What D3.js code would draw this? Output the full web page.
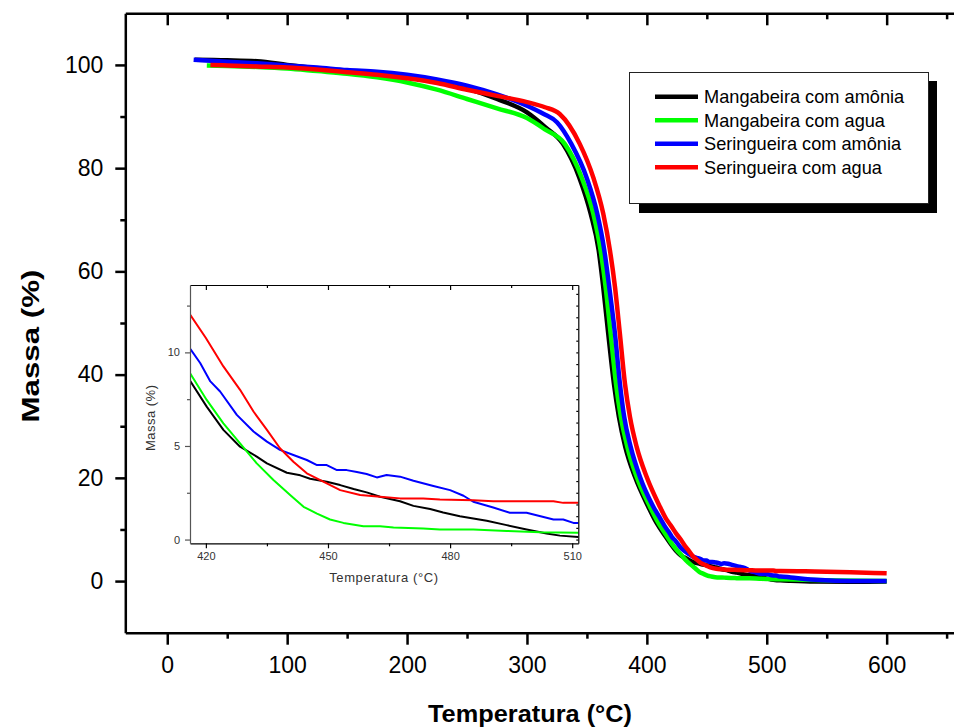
<!DOCTYPE html>
<html lang="pt">
<head>
<meta charset="UTF-8" />
<title>TGA - Massa x Temperatura</title>
<script src="https://d3js.org/d3.v7.min.js"></script>
<style>
  body { margin: 0; background: #fff; }
  svg { font-family: "Liberation Sans", Arial, sans-serif; }
  .main-axis text { font-size: 23px; fill: #000; }
  .main-axis line, .main-axis path { stroke: #000; stroke-width: 2.5px; }
  .inset-axis text { font-size: 11px; fill: #333; }
  .inset-axis line, .inset-axis path { stroke: #000; stroke-width: 1.2px; }
  .inset-left line, .inset-left path { stroke: #555; }
</style>
</head>
<body>
<script>
// series: [temperatura (°C), massa (%)]
const mangAmonia = [[23,101.0],[50,100.9],[75,100.7],[100,100.0],[125,99.3],[150,98.7],[175,98.2],[200,97.6],[225,96.7],[250,95.4],[275,93.4],[300,90.8],[315,88.0],[330,84.7],[343.6,78.2],[353.1,71.2],[359.8,64.1],[363.6,57.0],[367.8,47.9],[372.5,38.3],[376.7,31.8],[382,26.0],[390.1,20.2],[401.2,14.4],[408,11.3],
  [416.2,8.45],[420.2,7.1],[424.3,5.86],[428.4,4.96],[432.5,4.43],[435,4.07],[439.9,3.57],[443.2,3.43],[445.6,3.25],[449.7,3.09],[453,2.91],[456.3,2.7],[459.5,2.52],[462.8,2.29],[467.7,2.05],[471,1.8],[475.1,1.63],[478.3,1.45],[482.4,1.25],[489,1.0],[493.9,0.77],[498.8,0.54],[503.7,0.32],[507,0.21],[511.5,0.14],
  [520,0.05],[540,-0.1],[570,-0.15],[600,-0.1]];
const mangAgua = [[33,99.9],[50,99.8],[75,99.6],[100,99.3],[125,98.8],[150,98.3],[175,97.6],[200,96.6],[225,95.2],[250,93.4],[275,91.6],[300,89.7],[315,87.5],[331.5,84.7],[345.6,78.2],[355.3,71.2],[361.4,64.1],[365.6,57.0],[369.8,47.9],[374.2,38.3],[378.3,31.8],[383.7,26.0],[391.5,20.2],[402.6,14.4],[409,11.5],
  [416.2,8.86],[420.2,7.46],[424.3,6.21],[428.4,5.14],[432.5,4.07],[436.6,3.18],[440.7,2.38],[444,1.75],[447.3,1.39],[450.5,1.07],[453.8,0.89],[458.7,0.71],[462.8,0.71],[466.1,0.64],[473.4,0.59],[477.5,0.54],[485.7,0.54],[493.9,0.46],[502.1,0.39],[511.5,0.36],
  [530,0.25],[560,0.1],[600,0.0]];
const seringAmonia = [[22,101.0],[50,100.6],[75,100.3],[100,99.9],[125,99.5],[150,99.0],[175,98.7],[200,98.1],[225,97.2],[250,96.0],[275,94.3],[300,92.1],[314,90.5],[325,88.9],[337,84.7],[349.7,78.2],[358.6,71.2],[364.5,64.1],[368.6,57.0],[373.4,47.9],[377.5,38.3],[381.1,31.8],[386.5,26.0],[394.2,20.2],[405.4,14.4],[411,12.2],
  [416.2,10.18],[418.6,9.43],[421.1,8.45],[423.5,7.91],[427.6,6.66],[431.7,5.77],[435,5.23],[438.2,4.79],[441.5,4.52],[444.8,4.25],[447.3,3.98],[449.7,3.98],[452.2,3.71],[454.6,3.71],[457.1,3.61],[459.5,3.5],[462,3.32],[464.4,3.45],[467.7,3.36],[471,3.14],[475.9,2.86],[480,2.64],[483.3,2.34],[485.7,2.02],[490.6,1.71],[494.7,1.43],[498.8,1.43],[505.4,1.07],[507.8,1.07],[510.3,0.89],[511.5,0.89],
  [520,0.7],[544,0.2],[570,0.0],[600,0.0]];
const seringAgua = [[36,100.0],[50,99.9],[75,99.7],[100,99.5],[125,99.1],[150,98.6],[175,98.1],[200,97.4],[225,96.5],[250,95.2],[275,94.0],[300,92.8],[315,91.8],[327.3,90.5],[344,84.7],[355.3,78.2],[363.6,71.2],[369.2,64.1],[373.4,57.0],[377.5,47.9],[381.7,38.3],[385.9,31.8],[391.5,26.0],[399.8,20.2],[410.9,14.4],
  [416.2,12.0],[420,10.77],[424.3,9.25],[428.4,8.0],[431.7,6.84],[435,5.86],[438.2,4.88],[441.5,4.16],[444.8,3.54],[449.7,3.0],[453,2.64],[457.9,2.38],[462.8,2.29],[467.7,2.2],[473.4,2.2],[477.5,2.14],[485.7,2.1],[490.6,2.05],[505.4,2.05],[507.8,1.96],[511.5,1.96],
  [540,1.85],[570,1.7],[600,1.5]];

const seriesNames = ["Mangabeira com amônia", "Mangabeira com agua", "Seringueira com amônia", "Seringueira com agua"];
const seriesData = [mangAmonia, mangAgua, seringAmonia, seringAgua];
const seriesColors = ["#000000", "#00ff00", "#0000ff", "#ff0000"];

const mainXTicks = [0, 100, 200, 300, 400, 500, 600];
const mainYTicks = [0, 20, 40, 60, 80, 100];
const insetXTicks = [420, 450, 480, 510];
const insetYTicks = [0, 5, 10];

const W = 954, H = 728;
const svg = d3.select("body").append("svg")
  .attr("width", W).attr("height", H);
svg.append("rect").attr("width", W).attr("height", H).attr("fill", "#fff");

// main scales
const x = d3.scaleLinear().domain([-35, 660]).range([125.3, 958.6]);
const y = d3.scaleLinear().domain([-10, 110]).range([632.7, 13.3]);

const minorX = d3.range(50, 660, 100);
const minorY = d3.range(10, 110, 20);

// bottom axis
svg.append("g").attr("class", "main-axis")
  .attr("transform", `translate(0,${y.range()[0]})`)
  .call(d3.axisBottom(x).tickValues(mainXTicks).tickSizeInner(12).tickSizeOuter(0).tickPadding(12));
svg.append("g").attr("class", "main-axis")
  .attr("transform", `translate(0,${y.range()[0]})`)
  .call(d3.axisBottom(x).tickValues(minorX).tickSize(6).tickFormat(""))
  .select(".domain").remove();
// top axis, ticks inward
svg.append("g").attr("class", "main-axis")
  .attr("transform", `translate(0,${y.range()[1]})`)
  .call(d3.axisTop(x).tickValues(mainXTicks).tickSizeInner(-12).tickSizeOuter(0).tickFormat(""));
svg.append("g").attr("class", "main-axis")
  .attr("transform", `translate(0,${y.range()[1]})`)
  .call(d3.axisTop(x).tickValues(minorX).tickSize(-6).tickFormat(""))
  .select(".domain").remove();
// left axis
svg.append("g").attr("class", "main-axis")
  .attr("transform", `translate(${x.range()[0]},0)`)
  .call(d3.axisLeft(y).tickValues(mainYTicks).tickSizeInner(10).tickSizeOuter(0).tickPadding(12));
svg.append("g").attr("class", "main-axis")
  .attr("transform", `translate(${x.range()[0]},0)`)
  .call(d3.axisLeft(y).tickValues(minorY).tickSize(5).tickFormat(""))
  .select(".domain").remove();

// axis titles
svg.append("text")
  .attr("x", 530).attr("y", 722)
  .attr("text-anchor", "middle")
  .attr("font-size", 24.5).attr("font-weight", "bold")
  .attr("textLength", 204).attr("lengthAdjust", "spacingAndGlyphs")
  .text("Temperatura (°C)");
svg.append("text")
  .attr("transform", "translate(39,346) rotate(-90)")
  .attr("text-anchor", "middle")
  .attr("font-size", 24).attr("font-weight", "bold")
  .attr("textLength", 153).attr("lengthAdjust", "spacingAndGlyphs")
  .text("Massa (%)");

// main curves
svg.append("clipPath").attr("id", "clipMain")
  .append("rect").attr("x", 125.3).attr("y", 13.3).attr("width", 833).attr("height", 619.4);
const lineMain = d3.line().x(d => x(d[0])).y(d => y(d[1])).curve(d3.curveMonotoneX);
svg.append("g").attr("clip-path", "url(#clipMain)")
  .selectAll("path").data(seriesData).join("path")
  .attr("d", lineMain)
  .attr("fill", "none")
  .attr("stroke", (d, i) => seriesColors[i])
  .attr("stroke-width", 4.5)
  .attr("stroke-linejoin", "round");

// legend
const lg = svg.append("g");
lg.append("rect").attr("x", 639).attr("y", 81).attr("width", 298).attr("height", 132).attr("fill", "#000");
lg.append("rect").attr("x", 629.5).attr("y", 72.5).attr("width", 299).attr("height", 131)
  .attr("fill", "#fff").attr("stroke", "#222").attr("stroke-width", 1);
const rowY = d3.scaleLinear().domain([0, 3]).range([96.7, 167.3]);
seriesNames.forEach((name, i) => {
  lg.append("line")
    .attr("x1", 655).attr("x2", 698)
    .attr("y1", rowY(i)).attr("y2", rowY(i))
    .attr("stroke", seriesColors[i]).attr("stroke-width", 4.5);
  lg.append("text")
    .attr("x", 704).attr("y", rowY(i) + 6.5)
    .attr("font-size", 18.2)
    .text(name);
});

// inset
const ix = d3.scaleLinear().domain([416.1, 511.5]).range([190, 578.3]);
const iy = d3.scaleLinear().domain([-0.2, 13.6]).range([543.3, 285]);
const inset = svg.append("g");
inset.append("rect")
  .attr("x", 190).attr("y", 285).attr("width", 388.3).attr("height", 258.3)
  .attr("fill", "#fff");
inset.append("clipPath").attr("id", "clipInset")
  .append("rect").attr("x", 190).attr("y", 285).attr("width", 388.3).attr("height", 258.3);
const lineInset = d3.line().x(d => ix(d[0])).y(d => iy(d[1]));
inset.append("g").attr("clip-path", "url(#clipInset)")
  .selectAll("path").data(seriesData).join("path")
  .attr("d", lineInset)
  .attr("fill", "none")
  .attr("stroke", (d, i) => seriesColors[i])
  .attr("stroke-width", 2)
  .attr("stroke-linejoin", "round");

const iMinorX = [435, 465, 495];
const iMinorY = [2.5, 7.5, 12.5];
const iRightY = d3.range(0, 13.6, 0.625);

inset.append("g").attr("class", "inset-axis")
  .attr("transform", `translate(0,${iy.range()[0]})`)
  .call(d3.axisBottom(ix).tickValues(insetXTicks).tickSizeInner(5).tickSizeOuter(0).tickPadding(4));
inset.append("g").attr("class", "inset-axis")
  .attr("transform", `translate(0,${iy.range()[0]})`)
  .call(d3.axisBottom(ix).tickValues(iMinorX).tickSize(3).tickFormat(""))
  .select(".domain").remove();
inset.append("g").attr("class", "inset-axis")
  .attr("transform", `translate(0,${iy.range()[1]})`)
  .call(d3.axisTop(ix).tickValues(insetXTicks).tickSizeInner(-5).tickSizeOuter(0).tickFormat(""));
inset.append("g").attr("class", "inset-axis")
  .attr("transform", `translate(0,${iy.range()[1]})`)
  .call(d3.axisTop(ix).tickValues(iMinorX).tickSize(-3).tickFormat(""))
  .select(".domain").remove();
inset.append("g").attr("class", "inset-axis inset-left")
  .attr("transform", `translate(${ix.range()[0]},0)`)
  .call(d3.axisLeft(iy).tickValues(insetYTicks).tickSizeInner(5).tickSizeOuter(0).tickPadding(5));
inset.append("g").attr("class", "inset-axis inset-left")
  .attr("transform", `translate(${ix.range()[0]},0)`)
  .call(d3.axisLeft(iy).tickValues(iMinorY).tickSize(3).tickFormat(""))
  .select(".domain").remove();
inset.append("g").attr("class", "inset-axis")
  .attr("transform", `translate(${ix.range()[1]},0)`)
  .call(d3.axisRight(iy).tickValues(iRightY).tickSizeInner(-2).tickSizeOuter(0).tickFormat(""))
  .selectAll("line").attr("stroke-width", 0.8);
inset.selectAll(".inset-left path").attr("stroke-width", 2);

inset.append("text")
  .attr("x", 383.7).attr("y", 581.5)
  .attr("text-anchor", "middle").attr("font-size", 13).attr("fill", "#333")
  .attr("textLength", 109).attr("lengthAdjust", "spacing")
  .text("Temperatura (°C)");
inset.append("text")
  .attr("transform", "translate(155,418) rotate(-90)")
  .attr("text-anchor", "middle").attr("font-size", 13).attr("fill", "#333")
  .attr("textLength", 66).attr("lengthAdjust", "spacing")
  .text("Massa (%)");
</script>
</body>
</html>
